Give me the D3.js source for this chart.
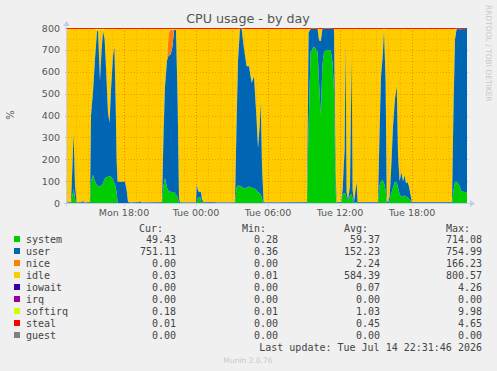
<!DOCTYPE html>
<html>
<head>
<meta charset="utf-8">
<script src="https://cdn.jsdelivr.net/npm/d3@7"></script>
<style>
  body { margin: 0; background: #f0f0f0; }
  svg { display: block; font-family: "DejaVu Sans", sans-serif; }
  .mono { font-family: "DejaVu Sans Mono", monospace; }
</style>
</head>
<body>
<div id="chart"></div>
<script>
// samples, minutes after Mon 13:15
const minutes = [0,20,28,33,40,48,75,80,85,115,
  120,130,140,150,155,165,173,180,188,195,
  205,213,220,230,237,243,248,253,290,298,
  305,315,360,365,370,475,483,490,500,508,
  518,528,535,545,553,560,565,645,649,655,
  665,670,675,683,740,745,840,848,855,865,
  873,885,898,910,923,935,948,955,963,969,
  975,983,990,1200,1208,1218,1235,1253,1260,1269,
  1277,1285,1300,1318,1328,1335,1343,1348,1370,1378,
  1388,1393,1398,1405,1415,1423,1428,1435,1448,1453,
  1555,1563,1570,1578,1585,1593,1599,1605,1613,1620,
  1630,1640,1649,1655,1663,1672,1680,1688,1695,1703,
  1710,1719,1725,1925,1933,1940,1948,1955,1963,1970,
  1980,1990,2000];

const system = [0,0,40,65,20,0,0,2,0,0,
  100,128,100,80,75,78,80,90,110,118,
  120,122,120,110,90,75,50,0,0,0,
  0,0,0,0,0,0,80,114,70,55,
  52,50,50,40,25,0,0,0,5,25,
  29,10,5,0,0,0,0,70,80,78,
  75,65,70,75,70,68,60,50,45,40,
  20,0,0,0,350,690,715,692,554,400,
  630,692,700,700,640,509,50,0,0,40,
  46,40,20,10,35,40,20,0,5,0,
  0,80,100,105,90,60,0,0,10,40,
  70,97,95,70,40,30,30,35,30,25,
  20,10,0,0,60,97,97,90,80,55,
  52,50,49.43];

const user = [2,3,150,255,60,2,3,10,2,3,
  300,380,560,703,715,480,620,695,640,500,
  290,245,400,560,624,400,150,97,97,60,
  5,2,3,8,2,3,250,420,580,620,
  625,670,740,752,450,20,2,2,80,30,
  20,40,10,3,4,2,2,300,570,720,
  722,640,555,550,480,510,320,200,300,420,
  150,5,2,3,430,105,82,105,190,340,
  165,105,97,97,155,285,100,3,3,20,
  200,690,30,5,40,625,40,5,90,3,
  3,250,480,560,695,500,10,3,20,100,
  280,380,440,150,60,110,70,90,60,70,
  55,20,3,3,400,650,697,705,714,739,
  743,746,751.11];

const nice = [0,0,0,0,0,0,0,0,0,0,
  0,0,0,0,0,0,0,0,0,0,
  0,0,0,0,0,0,0,0,0,0,
  0,0,0,0,0,0,0,0,0,100,
  115,70,0,0,0,0,0,0,0,0,
  0,0,0,0,0,0,0,0,0,0,
  0,0,0,0,0,0,0,0,0,0,
  0,0,0,0,0,0,0,0,0,0,
  0,0,0,0,0,0,0,0,0,0,
  0,0,0,0,0,0,0,0,0,0,
  0,0,0,0,0,0,0,0,0,0,
  0,0,0,0,0,0,0,0,0,0,
  0,0,0,0,0,0,0,0,0,0,
  0,0,0];

const softirq = [1,1,1,1,1,1,1,1,1,1,
  1,2,3,6,7,5,6,6,3,2,
  2,2,2,3,2,2,1,1,1,1,
  1,1,1,1,1,1,1,2,2,3,
  3,2,2,2,1,1,1,1,1,1,
  1,1,1,1,1,1,1,2,3,6,
  5,3,2,2,2,2,2,1,1,1,
  1,1,1,1,2,4,4,3,2,2,
  3,3,3,3,2,2,1,1,1,1,
  1,2,1,1,1,2,1,1,1,1,
  1,1,2,3,5,3,1,1,1,1,
  2,2,2,1,1,1,1,1,1,1,
  1,1,1,1,2,3,4,3,2,2,
  2,2,0.18];

const steal = [3,3,3,3,3,3,3,3,3,3,
  3,3,3,2,2,3,3,2,3,3,
  3,3,3,3,3,3,3,3,3,3,
  3,3,3,3,3,3,3,3,3,3,
  3,3,3,3,3,3,3,3,3,3,
  3,3,3,3,3,3,3,3,3,2,
  2,3,3,3,3,3,3,3,3,3,
  3,3,3,3,3,3,3,3,3,3,
  3,3,3,3,3,3,3,3,3,3,
  3,3,3,3,3,3,3,3,3,3,
  3,3,3,3,2,3,3,3,3,3,
  3,3,3,3,3,3,3,3,3,3,
  3,3,3,3,3,3,3,3,3,3,
  3,3,3];

const cpuTotal = 800; // 8 cores

// legend table
const legendNames = ['system', 'user', 'nice', 'idle', 'iowait', 'irq', 'softirq', 'steal', 'guest'];
const legendColors = ['#00CC00', '#0066B3', '#FF8000', '#FFCC00', '#330099', '#990099', '#CCFF00', '#FF0000', '#808080'];
const curVals = ['49.43', '751.11', '0.00', '0.03', '0.00', '0.00', '0.18', '0.01', '0.00'];
const minVals = ['0.28', '0.36', '0.00', '0.01', '0.00', '0.00', '0.01', '0.00', '0.00'];
const avgVals = ['59.37', '152.23', '2.24', '584.39', '0.07', '0.00', '1.03', '0.45', '0.00'];
const maxVals = ['714.08', '754.99', '166.23', '800.57', '4.26', '0.00', '9.98', '4.65', '0.00'];

const startTime = new Date(2026, 6, 13, 13, 15);
const endTime = new Date(2026, 6, 14, 22, 35);

const W = 497, H = 371;
const pLeft = 67, pRight = 467, pTop = 28, pBottom = 203;

const svg = d3.select('#chart')
    .append('svg')
    .attr('width', W)
    .attr('height', H);

svg.append('rect').attr('width', W).attr('height', H).attr('fill', '#f0f0f0');

const x = d3.scaleTime().domain([startTime, endTime]).range([pLeft, pRight]);
const y = d3.scaleLinear().domain([0, 800]).range([pBottom, pTop]);

const colorOf = {};
legendNames.forEach((n, i) => colorOf[n] = legendColors[i]);

const rows = minutes.map((m, i) => {
    const used = system[i] + user[i] + nice[i] + softirq[i] + steal[i];
    return {
        time: d3.timeMinute.offset(startTime, m),
        system: system[i],
        user: user[i],
        nice: nice[i],
        idle: Math.max(0, cpuTotal - used),
        softirq: softirq[i],
        steal: steal[i]
    };
});

const keys = ['system', 'user', 'nice', 'idle', 'softirq', 'steal'];
const series = d3.stack().keys(keys)(rows);

const area = d3.area()
    .x(d => x(d.data.time))
    .y0(d => y(d[0]))
    .y1(d => y(d[1]));

svg.append('defs').append('clipPath').attr('id', 'plotClip')
    .append('rect')
    .attr('x', pLeft).attr('y', pTop)
    .attr('width', pRight - pLeft).attr('height', pBottom - pTop);

svg.append('rect')
    .attr('x', pLeft).attr('y', pTop)
    .attr('width', pRight - pLeft).attr('height', pBottom - pTop)
    .attr('fill', '#ffffff');

const back = svg.append('g').attr('clip-path', 'url(#plotClip)');
back.selectAll('path')
    .data(series.filter(s => ['idle', 'softirq', 'steal'].includes(s.key)))
    .enter()
    .append('path')
    .attr('d', area)
    .attr('fill', d => colorOf[d.key]);

// grid
const grid = svg.append('g');
const minorY = d3.range(50, 801, 100);
const majorY = d3.range(0, 801, 100);
const minorColor = 'rgba(220,90,40,0.28)';
const majorColor = 'rgba(255,30,0,0.32)';

grid.selectAll('.minorY')
    .data(minorY)
    .enter()
    .append('line')
    .attr('x1', pLeft).attr('x2', pRight + 2)
    .attr('y1', d => Math.round(y(d)) + 0.5)
    .attr('y2', d => Math.round(y(d)) + 0.5)
    .attr('stroke', minorColor)
    .attr('stroke-dasharray', '1,2');

grid.selectAll('.majorY')
    .data(majorY.slice(1))
    .enter()
    .append('line')
    .attr('x1', pLeft - 2).attr('x2', pRight + 2)
    .attr('y1', d => Math.round(y(d)) + 0.5)
    .attr('y2', d => Math.round(y(d)) + 0.5)
    .attr('stroke', majorColor)
    .attr('stroke-dasharray', '1,2');

const hourTicks = x.ticks(d3.timeHour.every(1));
const sixTicks = x.ticks(d3.timeHour.every(6));

grid.selectAll('.minorX')
    .data(hourTicks)
    .enter()
    .append('line')
    .attr('x1', d => Math.round(x(d)) + 0.5)
    .attr('x2', d => Math.round(x(d)) + 0.5)
    .attr('y1', pTop).attr('y2', pBottom + 2)
    .attr('stroke', minorColor)
    .attr('stroke-dasharray', '1,2');

grid.selectAll('.majorX')
    .data(sixTicks)
    .enter()
    .append('line')
    .attr('x1', d => Math.round(x(d)) + 0.5)
    .attr('x2', d => Math.round(x(d)) + 0.5)
    .attr('y1', pTop).attr('y2', pBottom + 3)
    .attr('stroke', majorColor)
    .attr('stroke-dasharray', '1,2');

const front = svg.append('g').attr('clip-path', 'url(#plotClip)');
front.selectAll('path')
    .data(series.filter(s => ['system', 'user', 'nice'].includes(s.key)))
    .enter()
    .append('path')
    .attr('d', area)
    .attr('fill', d => colorOf[d.key]);

// top line
svg.append('line')
    .attr('x1', pLeft).attr('x2', pRight)
    .attr('y1', pTop + 0.5).attr('y2', pTop + 0.5)
    .attr('stroke', 'rgba(255,0,0,0.6)');

// axes
const axisColor = '#c4ccf2';
svg.append('line')
    .attr('x1', pLeft - 3).attr('x2', pRight + 3)
    .attr('y1', pBottom + 0.5).attr('y2', pBottom + 0.5)
    .attr('stroke', axisColor);
svg.append('path')
    .attr('d', `M${pRight + 3},${pBottom - 3} L${pRight + 8},${pBottom + 0.5} L${pRight + 3},${pBottom + 4} Z`)
    .attr('fill', axisColor);
svg.append('line')
    .attr('x1', pLeft - 0.5).attr('x2', pLeft - 0.5)
    .attr('y1', pBottom + 3).attr('y2', pTop - 3)
    .attr('stroke', axisColor);
svg.append('path')
    .attr('d', `M${pLeft - 4},${pTop - 2} L${pLeft - 0.5},${pTop - 7} L${pLeft + 3},${pTop - 2} Z`)
    .attr('fill', axisColor);

// labels
svg.selectAll('.ylab')
    .data(majorY)
    .enter()
    .append('text')
    .attr('x', 60)
    .attr('y', d => y(d) + 3.5)
    .attr('text-anchor', 'end')
    .attr('font-size', '9.5px')
    .attr('fill', '#555')
    .text(d => d);

const fmt = d3.timeFormat('%a %H:%M');
svg.selectAll('.xlab')
    .data(sixTicks)
    .enter()
    .append('text')
    .attr('x', d => x(d))
    .attr('y', 216)
    .attr('text-anchor', 'middle')
    .attr('font-size', '9.5px')
    .attr('fill', '#555')
    .text(d => fmt(d));

svg.append('text')
    .attr('x', 248).attr('y', 23)
    .attr('text-anchor', 'middle')
    .attr('font-size', '12.7px')
    .attr('fill', '#555')
    .text('CPU usage - by day');

svg.append('text')
    .attr('transform', 'translate(14,115) rotate(-90)')
    .attr('text-anchor', 'middle')
    .attr('font-size', '10px')
    .attr('fill', '#555')
    .text('%');

svg.append('text')
    .attr('transform', 'translate(486,5) rotate(90)')
    .attr('font-size', '7.5px')
    .attr('fill', '#c8c8c8')
    .text('RRDTOOL / TOBI OETIKER');

// legend
const legend = svg.append('g').attr('class', 'mono').attr('font-size', '10px').attr('fill', '#444');
const headX = [163, 266, 368, 470];
['Cur:', 'Min:', 'Avg:', 'Max:'].forEach((h, i) => {
    legend.append('text')
        .attr('x', headX[i]).attr('y', 232)
        .attr('text-anchor', 'end')
        .text(h);
});

const colX = [176, 278, 380, 482];
legendNames.forEach((name, i) => {
    const by = 243 + i * 12;
    legend.append('rect')
        .attr('x', 14).attr('y', by - 7)
        .attr('width', 6).attr('height', 6)
        .attr('fill', legendColors[i]);
    legend.append('text')
        .attr('x', 26).attr('y', by)
        .text(name);
    [curVals, minVals, avgVals, maxVals].forEach((vals, j) => {
        legend.append('text')
            .attr('x', colX[j]).attr('y', by)
            .attr('text-anchor', 'end')
            .text(vals[i]);
    });
});

legend.append('text')
    .attr('x', 482).attr('y', 351)
    .attr('text-anchor', 'end')
    .text('Last update: Tue Jul 14 22:31:46 2026');

svg.append('text')
    .attr('x', 248).attr('y', 363)
    .attr('text-anchor', 'middle')
    .attr('font-size', '7.5px')
    .attr('fill', '#c8c8c8')
    .text('Munin 2.0.76');
</script>
</body>
</html>
